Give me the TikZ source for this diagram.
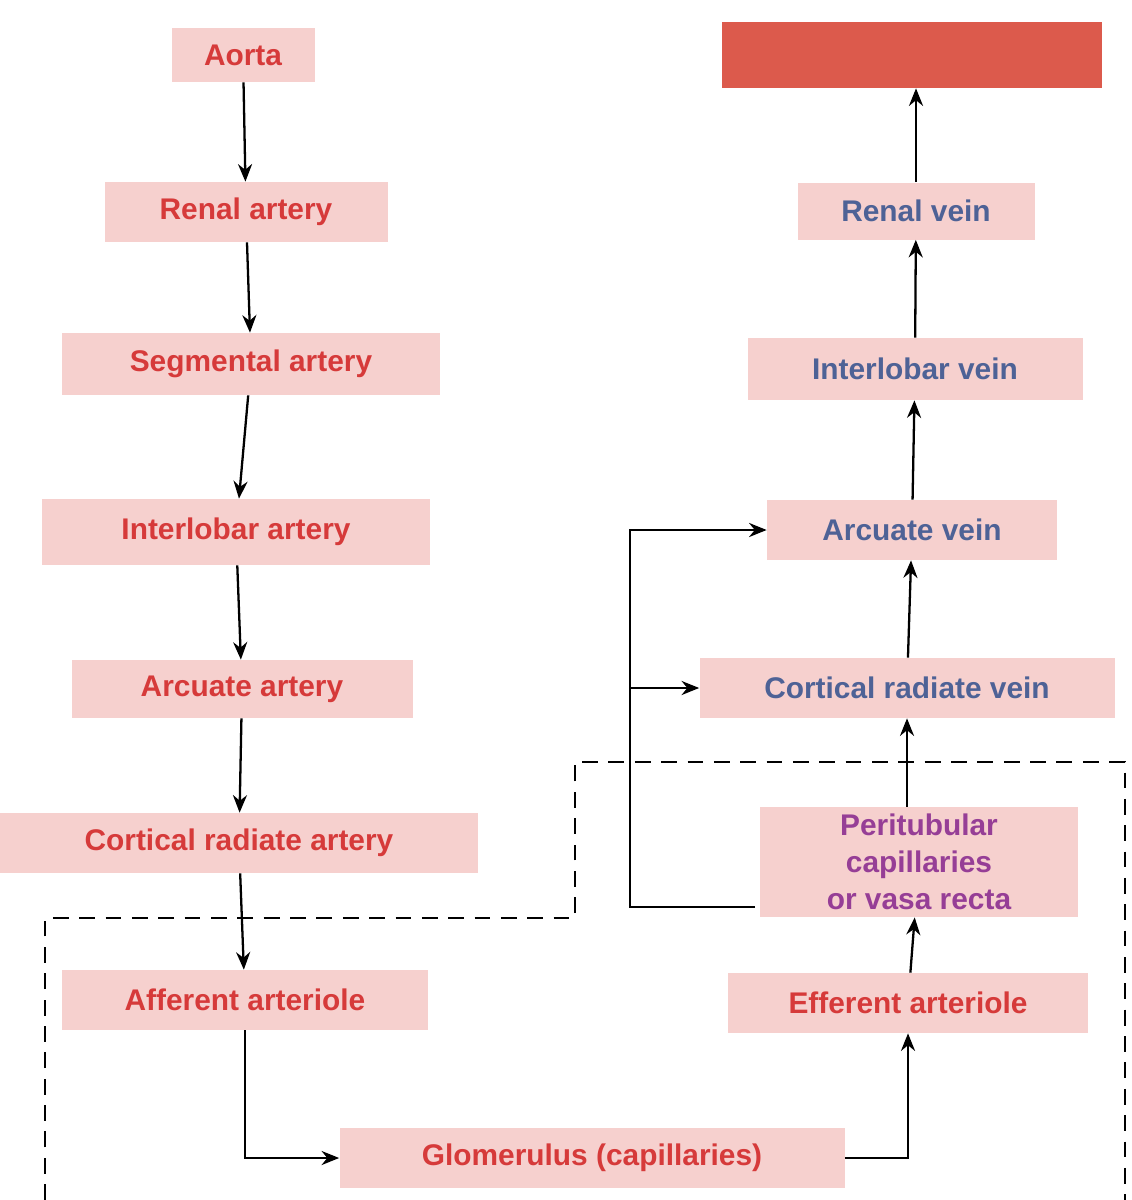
\documentclass[tikz,border=0pt]{standalone}
\usepackage{fontspec}
\setmainfont{Liberation Sans}
\usetikzlibrary{arrows.meta}
\definecolor{bx}{RGB}{246,208,206}
\definecolor{rt}{RGB}{214,58,58}
\definecolor{bt}{RGB}{78,98,150}
\definecolor{pt}{RGB}{150,62,150}
\definecolor{bar}{RGB}{220,90,76}
\begin{document}
\begin{tikzpicture}[x=0.02cm,y=-0.02cm,
 b/.style={fill=bx,inner sep=0pt,font=\fontsize{17}{20}\selectfont\bfseries,text=rt,align=center},
 v/.style={b,text=bt},
 a/.style={-{Stealth[length=10pt,width=8pt]},line width=1.3pt}]
\useasboundingbox (0,0) rectangle (1132,1200);
\node[b,minimum width=143*0.02cm,minimum height=54*0.02cm] (ao) at (243,55) {Aorta};
\node[b,minimum width=283*0.02cm,minimum height=60*0.02cm] (ra) at (246,212) {Renal artery};
\node[b,minimum width=378*0.02cm,minimum height=62*0.02cm] (sa) at (251,364) {Segmental artery};
\node[b,minimum width=388*0.02cm,minimum height=66*0.02cm] (ia) at (236,532) {Interlobar artery};
\node[b,minimum width=341*0.02cm,minimum height=58*0.02cm] (aa) at (242,689) {Arcuate artery};
\node[b,minimum width=478*0.02cm,minimum height=60*0.02cm] (ca) at (239,843) {Cortical radiate artery};
\node[b,minimum width=366*0.02cm,minimum height=60*0.02cm] (af) at (245,1000) {Afferent arteriole};
\node[b,minimum width=505*0.02cm,minimum height=60*0.02cm] (gl) at (592,1158) {Glomerulus (capillaries)};
\node[b,minimum width=360*0.02cm,minimum height=60*0.02cm] (ef) at (908,1003) {Efferent arteriole};
\node[b,text=pt,minimum width=318*0.02cm,minimum height=110*0.02cm,font=\fontsize{17}{21}\selectfont\bfseries] (pc) at (919,862) {Peritubular\\capillaries\\or vasa recta};
\node[v,minimum width=415*0.02cm,minimum height=60*0.02cm] (cv) at (907,688) {Cortical radiate vein};
\node[v,minimum width=290*0.02cm,minimum height=60*0.02cm] (av) at (912,530) {Arcuate vein};
\node[v,minimum width=335*0.02cm,minimum height=62*0.02cm] (iv) at (915,369) {Interlobar vein};
\node[v,minimum width=237*0.02cm,minimum height=57*0.02cm] (rv) at (916,211) {Renal vein};
\node[fill=bar,inner sep=0pt,minimum width=380*0.02cm,minimum height=66*0.02cm] (top) at (912,55) {};
\draw[a] (ao) -- (ra);
\draw[a] (ra) -- (sa);
\draw[a] (sa) -- (ia);
\draw[a] (ia) -- (aa);
\draw[a] (aa) -- (ca);
\draw[a] (ca) -- (af);
\draw[a] (af.south) |- (gl.west);
\draw[a] (gl.east) -| (ef.south);
\draw[a] (ef) -- (pc);
\draw[a] (pc.north -| cv) -- (cv);
\draw[a] (cv) -- (av);
\draw[a] (av) -- (iv);
\draw[a] (iv) -- (rv);
\draw[a] (rv) -- (top.south -| rv);
\coordinate (pw) at (755,907);
\coordinate (j) at (630,907);
\coordinate (k) at (630,688);
\draw[a] (pw) -- (j) |- (av.west);
\draw[a] (k) -- (cv.west);
\draw[dashed,line width=1.3pt,dash pattern=on 9pt off 6pt] (45,1200) -- (45,918) -- (575,918) -- (575,762) -- (1125,762) -- (1125,1200);
\end{tikzpicture}
\end{document}
